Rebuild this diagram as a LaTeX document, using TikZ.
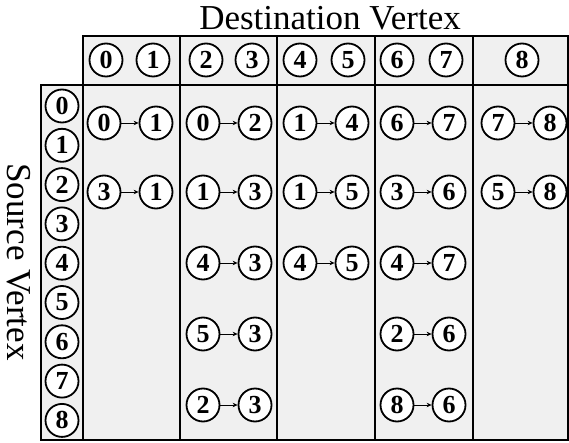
\documentclass[tikz,border=0pt]{standalone}
\usepackage{fontspec}
\setmainfont{Liberation Serif}
\newfontfamily\vtxfont{Liberation Serif Bold}
\usetikzlibrary{arrows.meta}
\definecolor{cellgray}{RGB}{240,240,240}

\begin{document}
\begin{tikzpicture}[
  x=1pt, y=-1pt,
  >={Stealth[length=5pt,width=4.5pt]},
  vtx/.style={circle, draw, line width=1.8pt, fill=white, minimum size=33pt,
    inner sep=0pt, execute at begin node={\vtxfont\fontsize{26}{26}\selectfont}},
  frame/.style={line width=2.6pt},
  edgearr/.style={->, line width=0.8pt},
  axislabel/.style={font=\fontsize{35}{35}\selectfont},
]
  \useasboundingbox (0,0) rectangle (569,443);

  % cells
  \fill[cellgray] (83,36) rectangle (568,85);
  \fill[cellgray] (41,85) rectangle (568,440);
  \draw[frame] (83,85) -- (83,36) -- (568,36) -- (568,440) -- (41,440) -- (41,85) -- cycle;
  \draw[frame] (83,85) -- (568,85);
  \draw[frame] (83,85) -- (83,440);
  \foreach \x in {180,277,375,473}
    \draw[frame] (\x,36) -- (\x,440);

  % axis labels
  \node[axislabel, anchor=base] (dsttitle) at (330,30) {Destination Vertex};
  \node[axislabel, rotate=-90] (srctitle) at (19,262) {Source Vertex};

  % destination vertices
  \foreach \x [count=\i from 0] in {106,153,206,252,300,348,397,446,522}
    \node[vtx] (dst\i) at (\x,60) {\i};

  % source vertices
  \foreach \i in {0,...,8}
    \node[vtx] (src\i) at (62,{106+39.3*\i}) {\i};

  % edges per block
  \foreach \cx/\ry/\s/\t [count=\k] in {
      130/123/0/1, 130/192/3/1,
      229/123/0/2, 229/192/1/3, 229/263/4/3, 229/334/5/3, 229/405/2/3,
      326/123/1/4, 326/192/1/5, 326/263/4/5,
      423/123/6/7, 423/192/3/6, 423/263/4/7, 423/334/2/6, 423/405/8/6,
      524/123/7/8, 524/192/5/8}{
    \node[vtx] (from\k) at (\cx-26,\ry) {\s};
    \node[vtx] (to\k) at (\cx+26,\ry) {\t};
    \draw[edgearr] (from\k) -- (to\k);
  }
\end{tikzpicture}
\end{document}
